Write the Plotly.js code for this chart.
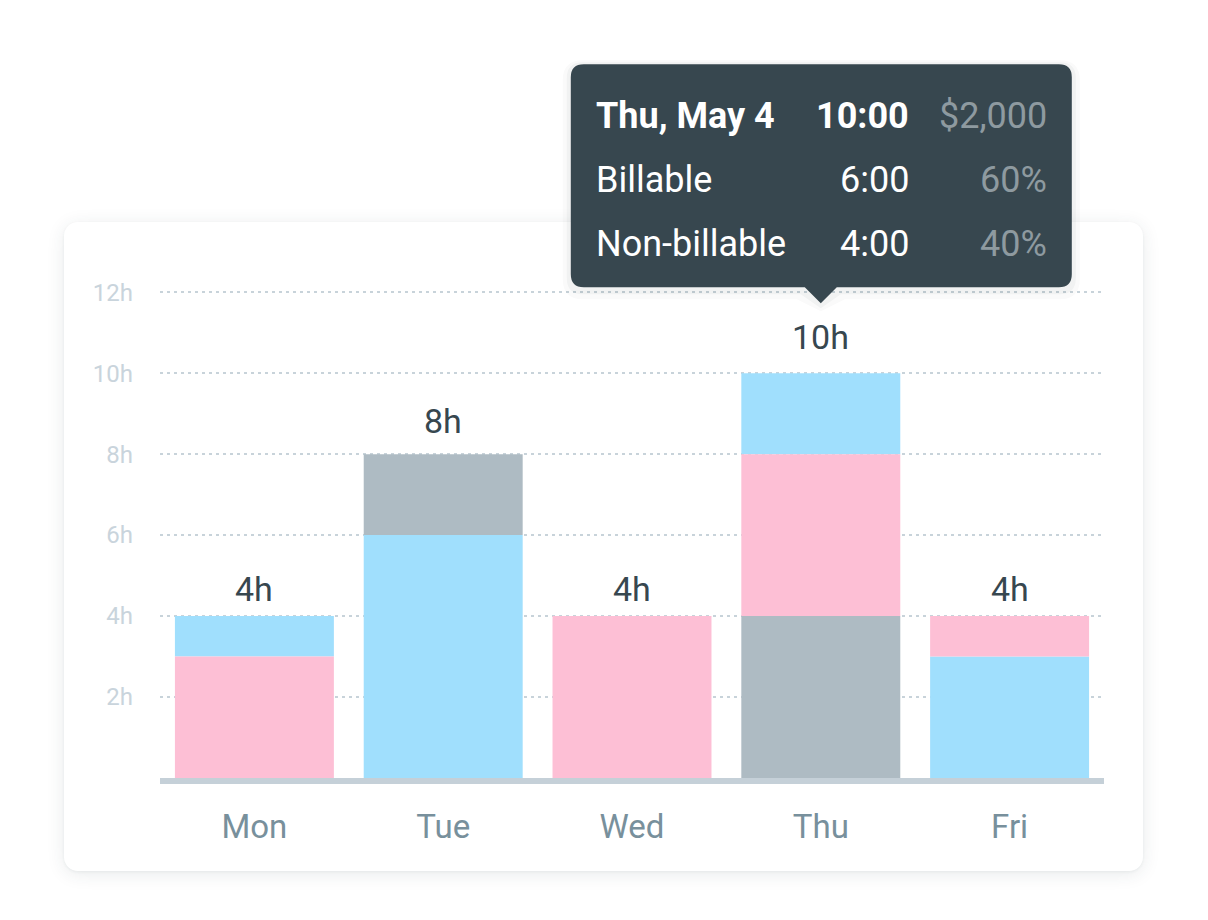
<!DOCTYPE html>
<html>
<head>
<meta charset="utf-8">
<script src="https://cdn.plot.ly/plotly-3.0.1.min.js"></script>
<style>
  html, body { margin: 0; padding: 0; background: #ffffff; }
  #wrap { position: relative; width: 1208px; height: 920px; overflow: hidden; }
  #card { position: absolute; left: 64px; top: 222px; width: 1079px; height: 649px;
          background: #ffffff; border-radius: 14px;
          box-shadow: 0 3px 18px rgba(40, 60, 70, 0.10), 0 1px 3px rgba(40,60,70,0.06); }
  #chart { position: absolute; left: 0; top: 0; width: 1208px; height: 920px; }
</style>
</head>
<body>
<div id="wrap">
  <div id="card"></div>
  <div id="chart"></div>
</div>
<script>
// ---- data ----
const days = ['Mon', 'Tue', 'Wed', 'Thu', 'Fri'];
const billable    = [1, 6, 0, 2, 3];   // light blue
const nonBillable = [3, 0, 4, 4, 1];   // pink
const other       = [0, 2, 0, 4, 0];   // grey
// stacking order, bottom to top, for each day
const stackOrder = [
  ['nonBillable', 'billable'],
  ['billable', 'other'],
  ['nonBillable'],
  ['other', 'nonBillable', 'billable'],
  ['billable', 'nonBillable']
];
const yTickVals = [2, 4, 6, 8, 10, 12];
const yTickText = ['2h', '4h', '6h', '8h', '10h', '12h'];
const tooltipDay = 'Thu';
const tooltipRows = [
  ['Thu, May 4', '10:00', '$2,000'],
  ['Billable', '6:00', '60%'],
  ['Non-billable', '4:00', '40%']
];

// ---- styles ----
const seriesValues = { billable: billable, nonBillable: nonBillable, other: other };
const seriesColors = { billable: '#a0dffd', nonBillable: '#fdbfd5', other: '#aebbc3' };
const FONT = 'Roboto, "Noto Sans", sans-serif';
const yRange = [-0.15, 12.5];

// compute bases from stacking order
const bases = { billable: [], nonBillable: [], other: [] };
const totals = days.map((d, i) => {
  let acc = 0;
  stackOrder[i].forEach(k => { bases[k][i] = acc; acc += seriesValues[k][i]; });
  Object.keys(bases).forEach(k => { if (bases[k][i] === undefined) bases[k][i] = 0; });
  return acc;
});

const traces = ['billable', 'nonBillable', 'other'].map(k => ({
  type: 'bar',
  x: days,
  y: seriesValues[k],
  base: bases[k],
  name: k,
  marker: { color: seriesColors[k], line: { width: 0 } },
  hoverinfo: 'skip'
}));

// value labels above bars
const annotations = days.map((d, i) => ({
  x: d, y: totals[i], xref: 'x', yref: 'y',
  text: totals[i] + 'h', showarrow: false,
  xanchor: 'center', yanchor: 'middle', yshift: 21 + 1.5 * totals[i],
  font: { family: FONT, size: 34, color: '#37474f' }
}));

// tooltip
const tIdx = days.indexOf(tooltipDay);
const tTotal = totals[tIdx];
const rowShifts = [257, 193, 129];
const colXShift = [-227, 90, 228];
const colAnchor = ['left', 'right', 'right'];
tooltipRows.forEach((row, r) => {
  row.forEach((txt, c) => {
    annotations.push({
      x: tooltipDay, y: tTotal, xref: 'x', yref: 'y',
      text: r === 0 && c < 2 ? '<b>' + txt + '</b>' : txt,
      showarrow: false, xanchor: colAnchor[c], yanchor: 'middle',
      xshift: colXShift[c], yshift: rowShifts[r],
      font: { family: FONT, size: 36, color: c === 2 ? '#8e9aa0' : '#ffffff' }
    });
  });
});

const xPaper = (tIdx + 0.5) / days.length;
const yPaper = (tTotal - yRange[0]) / (yRange[1] - yRange[0]);
function tipPath(L, R, B, T, rr, ah, tip) {
  return `M ${L + rr},${T} H ${R - rr} Q ${R},${T} ${R},${T - rr} V ${B + rr} Q ${R},${B} ${R - rr},${B} ` +
    `H ${ah} L 0,${tip} L ${-ah},${B} H ${L + rr} Q ${L},${B} ${L},${B + rr} V ${T - rr} Q ${L},${T} ${L + rr},${T} Z`;
}
const tipBase = { type: 'path', xref: 'paper', yref: 'paper', xsizemode: 'pixel', ysizemode: 'pixel',
  xanchor: xPaper, yanchor: yPaper, line: { width: 0 }, layer: 'above' };

const shapes = [
  // soft shadow under tooltip
  Object.assign({}, tipBase, { path: tipPath(-258, 259, 74, 313, 20, 24, 62), fillcolor: 'rgba(30,45,55,0.025)' }),
  Object.assign({}, tipBase, { path: tipPath(-254, 255, 79, 311, 16, 20, 65), fillcolor: 'rgba(30,45,55,0.04)' }),
  Object.assign({}, tipBase, { path: tipPath(-250, 251, 86, 309, 13, 16, 70), fillcolor: '#37474f' }),
  // thick baseline under the bars
  { type: 'rect', xref: 'paper', yref: 'y', ysizemode: 'pixel', yanchor: 0,
    x0: 0, x1: 1, y0: 0, y1: -7, fillcolor: '#c5d0d8', line: { width: 0 }, layer: 'below' }
];

const layout = {
  width: 1208, height: 920,
  margin: { l: 160, r: 104, t: 272, b: 136, pad: 0 },
  paper_bgcolor: 'rgba(0,0,0,0)',
  plot_bgcolor: 'rgba(0,0,0,0)',
  barmode: 'overlay',
  bargap: 0.158,
  showlegend: false,
  hovermode: false,
  font: { family: FONT },
  xaxis: {
    type: 'category',
    range: [-0.5, days.length - 0.5],
    showgrid: false, zeroline: false, showline: false,
    ticks: '', ticklabelstandoff: 20,
    tickfont: { family: FONT, size: 33, color: '#78909c' },
    fixedrange: true
  },
  yaxis: {
    range: yRange,
    tickvals: yTickVals, ticktext: yTickText,
    showgrid: true, gridcolor: '#c8d3da', gridwidth: 1.5, griddash: '3px,4px',
    zeroline: false,
    showline: false, ticks: '', ticklabelstandoff: 26,
    tickfont: { family: FONT, size: 24, color: '#c9d4dc' },
    fixedrange: true
  },
  shapes: shapes,
  annotations: annotations
};

Plotly.newPlot('chart', traces, layout, { displayModeBar: false, staticPlot: true });
</script>
</body>
</html>
